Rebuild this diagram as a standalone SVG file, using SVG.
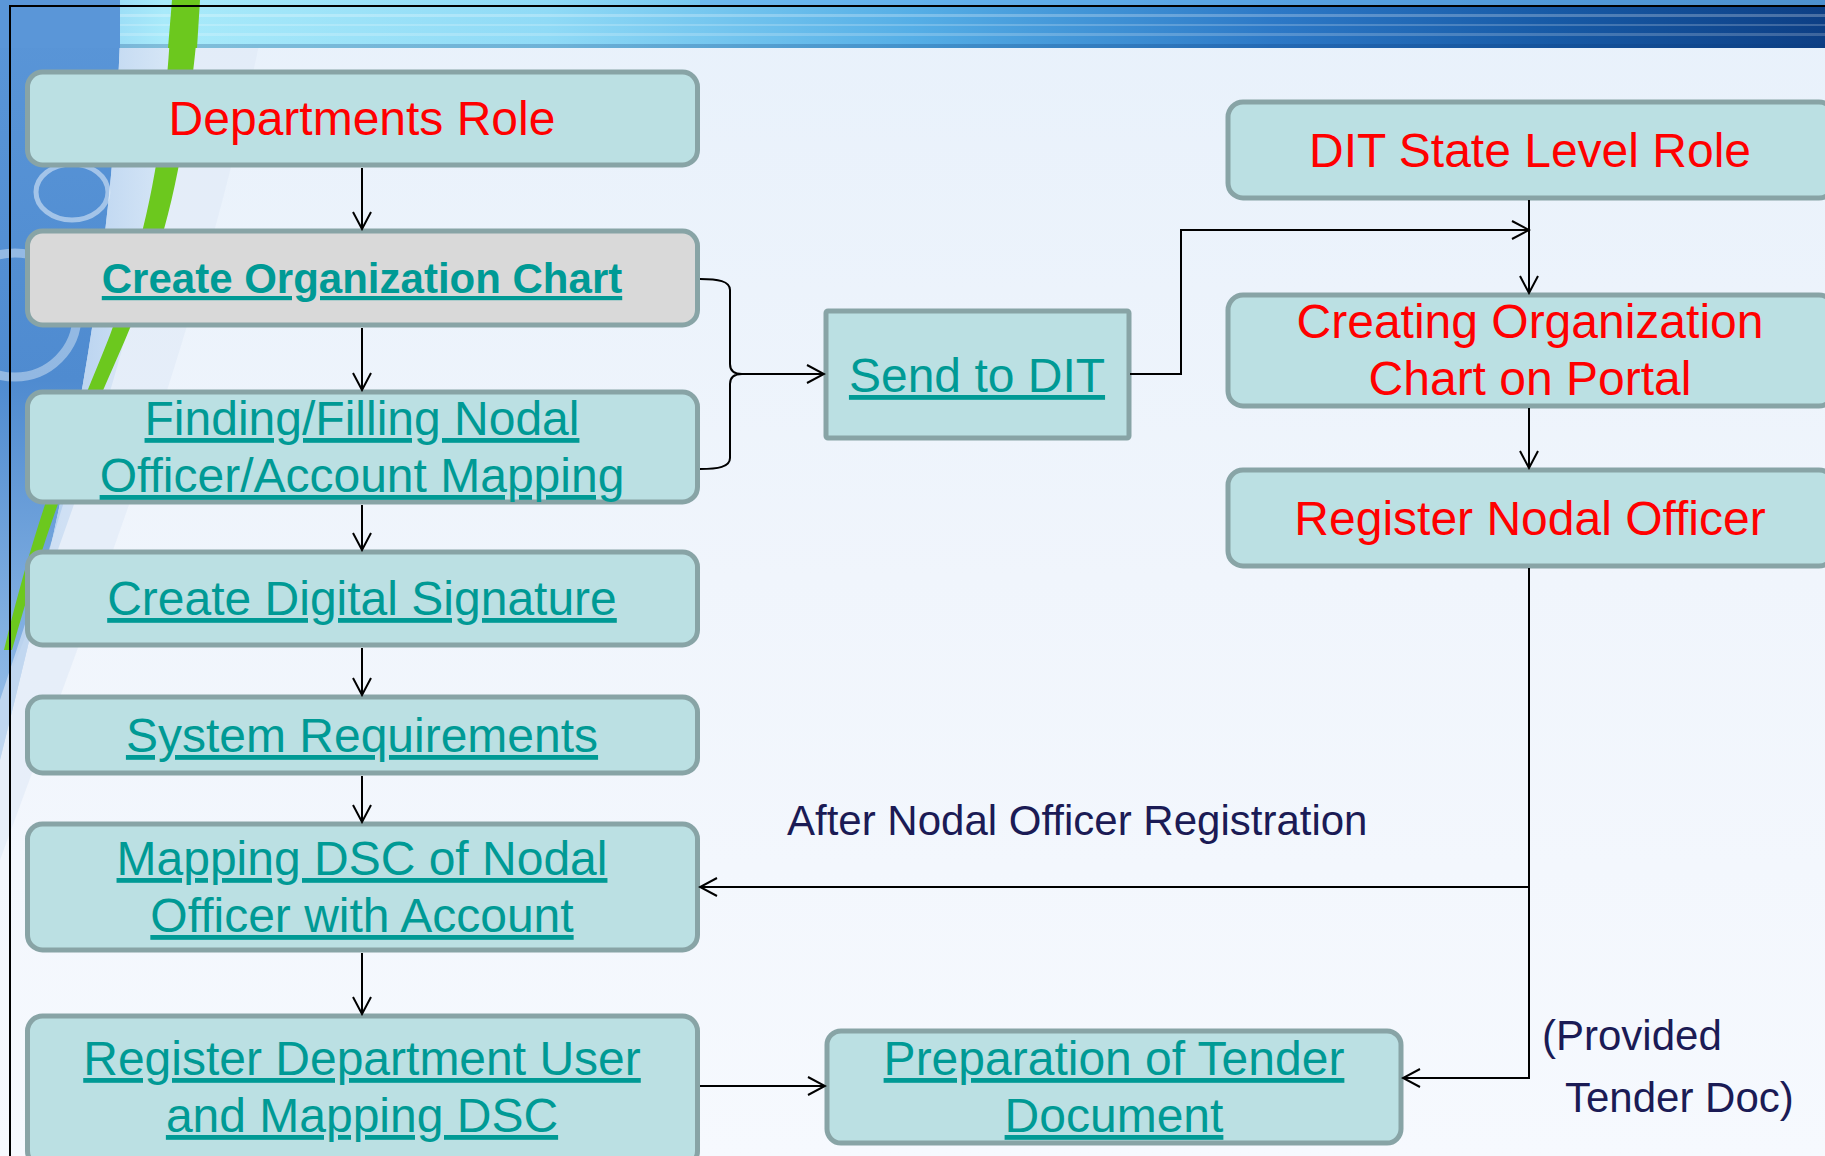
<svg xmlns="http://www.w3.org/2000/svg" width="1825" height="1156" viewBox="0 0 1825 1156">
<defs>
<linearGradient id="bg" x1="0" y1="0" x2="0" y2="1">
<stop offset="0" stop-color="#e8f1fb"/>
<stop offset="0.5" stop-color="#f0f5fc"/>
<stop offset="1" stop-color="#f6f9fe"/>
</linearGradient>
<linearGradient id="hdr" x1="0" y1="0" x2="1" y2="0">
<stop offset="0" stop-color="#7cc0ee"/>
<stop offset="0.09" stop-color="#a8eafa"/>
<stop offset="0.3" stop-color="#8fdaf6"/>
<stop offset="0.5" stop-color="#55aee6"/>
<stop offset="0.7" stop-color="#2c78c6"/>
<stop offset="0.85" stop-color="#175aa6"/>
<stop offset="1" stop-color="#0d3f85"/>
</linearGradient>
<linearGradient id="lb" x1="0" y1="0" x2="0" y2="1">
<stop offset="0" stop-color="#5a96d8"/>
<stop offset="0.5" stop-color="#4f8bd0"/>
<stop offset="1" stop-color="#9cc2ea"/>
</linearGradient>
<linearGradient id="lb2" x1="0" y1="0" x2="1" y2="0">
<stop offset="0" stop-color="#8fb8e6"/>
<stop offset="1" stop-color="#d6e6f6"/>
</linearGradient>
<marker id="ah" viewBox="0 0 20 20" refX="18" refY="10" markerWidth="20" markerHeight="20" markerUnits="userSpaceOnUse" orient="auto">
<path d="M1,1 L18,10 L1,19" fill="none" stroke="#000" stroke-width="2"/>
</marker>
<style>
.n rect{fill:#bbe0e3;stroke:#88a4a6;stroke-width:5}
.n rect.grey{fill:#d9d9d9}
.t{font-family:"Liberation Sans",Arial,sans-serif;font-size:48px;text-anchor:middle}
.red{fill:#ff0000}
.link{fill:#009a95;text-decoration:underline;text-decoration-skip-ink:none;text-decoration-thickness:4px;text-underline-offset:5px}
.b{font-weight:bold;font-size:42px}
.note{font-family:"Liberation Sans",Arial,sans-serif;font-size:42px;fill:#1b1b55}
.c path{fill:none;stroke:#000;stroke-width:2}
</style>
</defs>

<!-- background -->
<rect x="0" y="0" width="1825" height="1156" fill="url(#bg)"/>
<path d="M120,40 C110,300 60,520 0,760 L0,0 Z" fill="url(#lb)"/>
<path d="M120,40 L180,40 C160,260 90,480 0,700 L0,760 C60,520 110,300 120,40 Z" fill="url(#lb2)" opacity="0.8"/>
<path d="M0,700 C60,520 120,330 190,40 L260,40 C200,330 110,560 0,860 Z" fill="#dfeaf7" opacity="0.6"/>
<path d="M172,0 L200,0 C188,150 168,240 125,340 C95,410 60,480 12,650 L4,650 C45,480 85,400 110,335 C148,230 165,150 172,0 Z" fill="#6cc81e"/>
<ellipse cx="72" cy="192" rx="36" ry="28" fill="none" stroke="#e4eff9" stroke-width="5" opacity="0.55"/>
<circle cx="15" cy="315" r="62" fill="none" stroke="#e4eff9" stroke-width="9" opacity="0.45"/>
<!-- header band -->
<rect x="0" y="0" width="1825" height="48" fill="url(#hdr)"/>
<rect x="0" y="0" width="120" height="48" fill="#5a96d8"/>
<rect x="120" y="14" width="1705" height="3" fill="#ffffff" opacity="0.25"/>
<rect x="120" y="24" width="1705" height="2" fill="#ffffff" opacity="0.2"/>
<rect x="120" y="33" width="1705" height="3" fill="#ffffff" opacity="0.2"/>
<rect x="120" y="44" width="1705" height="4" fill="#0a3a7a" opacity="0.25"/>
<rect x="700" y="0" width="1125" height="6" fill="#6ab4ee" opacity="0.7"/>
<path d="M172,0 L200,0 L197,48 L168,48 Z" fill="#6cc81e"/>
<!-- frame -->
<path d="M10,1156 V6 H1825" fill="none" stroke="#000" stroke-width="2"/>

<!-- nodes -->
<g id="departments-role" class="n">
<rect x="27.5" y="72" width="670" height="93" rx="15"/>
<text class="t red" x="362" y="135">Departments Role</text>
</g>
<g id="create-org-chart" class="n">
<rect class="grey" x="27.5" y="231" width="670" height="94" rx="15"/>
<text class="t link b" x="362" y="293">Create Organization Chart</text>
</g>
<g id="finding-nodal" class="n">
<rect x="27.5" y="392" width="670" height="110" rx="15"/>
<text class="t link" x="362" y="435">Finding/Filling Nodal</text>
<text class="t link" x="362" y="492">Officer/Account Mapping</text>
</g>
<g id="create-dsc" class="n">
<rect x="27.5" y="552" width="670" height="93" rx="15"/>
<text class="t link" x="362" y="615">Create Digital Signature</text>
</g>
<g id="system-req" class="n">
<rect x="27.5" y="697" width="670" height="76" rx="15"/>
<text class="t link" x="362" y="752">System Requirements</text>
</g>
<g id="mapping-dsc" class="n">
<rect x="27.5" y="824" width="670" height="126" rx="15"/>
<text class="t link" x="362" y="875">Mapping DSC of Nodal</text>
<text class="t link" x="362" y="932">Officer with Account</text>
</g>
<g id="register-dept-user" class="n">
<rect x="27.5" y="1016" width="670" height="150" rx="15"/>
<text class="t link" x="362" y="1075">Register Department User</text>
<text class="t link" x="362" y="1132">and Mapping DSC</text>
</g>
<g id="send-to-dit" class="n">
<rect x="826" y="311" width="303" height="127" rx="2"/>
<text class="t link" x="977" y="392">Send to DIT</text>
</g>
<g id="dit-role" class="n">
<rect x="1228" y="102" width="606" height="96" rx="15"/>
<text class="t red" x="1530" y="167">DIT State Level Role</text>
</g>
<g id="creating-org-portal" class="n">
<rect x="1228" y="295" width="606" height="111" rx="15"/>
<text class="t red" x="1530" y="338">Creating Organization</text>
<text class="t red" x="1530" y="395">Chart on Portal</text>
</g>
<g id="register-nodal" class="n">
<rect x="1228" y="470" width="606" height="96" rx="15"/>
<text class="t red" x="1530" y="535">Register Nodal Officer</text>
</g>
<g id="prep-tender" class="n">
<rect x="827" y="1031" width="574" height="112" rx="14"/>
<text class="t link" x="1114" y="1075">Preparation of Tender</text>
<text class="t link" x="1114" y="1132">Document</text>
</g>

<!-- connectors -->
<g id="connectors" class="c">
<path d="M362,168 V229" marker-end="url(#ah)"/>
<path d="M362,328 V390" marker-end="url(#ah)"/>
<path d="M362,505 V550" marker-end="url(#ah)"/>
<path d="M362,648 V695" marker-end="url(#ah)"/>
<path d="M362,776 V822" marker-end="url(#ah)"/>
<path d="M362,953 V1014" marker-end="url(#ah)"/>
<path d="M700,279 C718,279 730,281 730,290 V364 C730,371 734,374 742,374 C734,374 730,377 730,384 V458 C730,467 718,469 700,469"/>
<path d="M740,374 H824" marker-end="url(#ah)"/>
<path d="M1130,374 H1181 V230 H1529" marker-end="url(#ah)"/>
<path d="M1529,200 V293" marker-end="url(#ah)"/>
<path d="M1529,408 V468" marker-end="url(#ah)"/>
<path d="M1529,568 V1078 H1403" marker-end="url(#ah)"/>
<path d="M1529,887 H700" marker-end="url(#ah)"/>
<path d="M700,1086 H825" marker-end="url(#ah)"/>
</g>

<!-- labels -->
<text class="note" x="787" y="835">After Nodal Officer Registration</text>
<text class="note" x="1542" y="1050">(Provided</text>
<text class="note" x="1565" y="1112">Tender Doc)</text>
</svg>
